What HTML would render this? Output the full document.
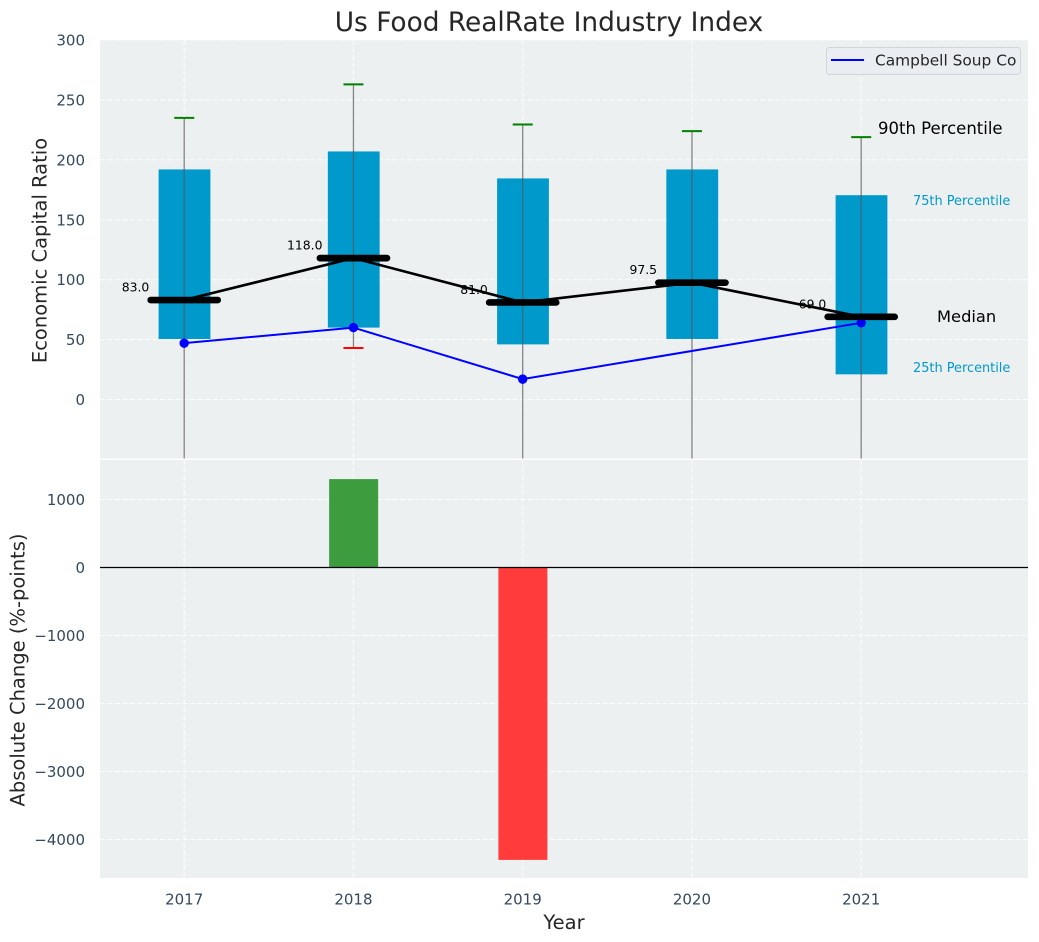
<!DOCTYPE html>
<html>
<head>
<meta charset="utf-8">
<title>Us Food RealRate Industry Index</title>
<style>
html,body{margin:0;padding:0;background:#fff;}
svg{display:block;}
text{font-family:"DejaVu Sans","Liberation Sans",sans-serif;}
</style>
</head>
<body>
<svg id="chart" xmlns="http://www.w3.org/2000/svg" width="1039" height="942" viewBox="0 0 1039 942">
<defs>
<clipPath id="clip-top"><rect x="100" y="40" width="928" height="418.5"/></clipPath>
<clipPath id="clip-bottom"><rect x="100" y="460" width="928" height="418"/></clipPath>
</defs>
<rect x="100" y="40" width="928" height="418.5" fill="#ecf0f1"/>
<rect x="100" y="460" width="928" height="418" fill="#ecf0f1"/>
<g id="grid"></g>
<g id="top" clip-path="url(#clip-top)"></g>
<g id="bottom" clip-path="url(#clip-bottom)"></g>
<g id="ticks"></g>
<text x="549" y="31" text-anchor="middle" font-size="26.4" fill="#262626">Us Food RealRate Industry Index</text>
<text transform="translate(46.5 250.5) rotate(-90)" text-anchor="middle" font-size="19.5" fill="#262626">Economic Capital Ratio</text>
<text transform="translate(24.5 670) rotate(-90)" text-anchor="middle" font-size="19.5" fill="#262626">Absolute Change (%-points)</text>
<text x="564" y="929" text-anchor="middle" font-size="19.5" fill="#262626">Year</text>
<text x="878" y="134" font-size="16.5" fill="#000">90th Percentile</text>
<text x="913" y="205" font-size="12.9" fill="#0099cc">75th Percentile</text>
<text x="937" y="322" font-size="16.3" fill="#000">Median</text>
<text x="913" y="372" font-size="12.9" fill="#0099cc">25th Percentile</text>
<g>
<rect x="826.5" y="47.5" width="194" height="27" rx="3" fill="#eaedf1" stroke="#d2d4d6" stroke-width="1"/>
<line x1="831" y1="60" x2="864" y2="60" stroke="#0000ff" stroke-width="2"/>
<text x="875" y="65.5" font-size="15.4" fill="#262626">Campbell Soup Co</text>
</g>
</svg>
<script>
const years = [2017, 2018, 2019, 2020, 2021];
const p90 = [235, 263, 229.5, 224, 219];
const p75 = [192, 207, 184.5, 192, 170.5];
const medians = [83, 118, 81, 97.5, 69];
const p25 = [50.5, 60, 46, 50.5, 21];
const p10 = [-80, 43, -80, -80, -80];
const company = [47, 60, 17, null, 64];
const changes = [null, 1300, -4300, null, null];
const topTicks = [0, 50, 100, 150, 200, 250, 300];
const bottomTicks = [-4000, -3000, -2000, -1000, 0, 1000];

const NS = 'http://www.w3.org/2000/svg';
const sx = v => 184.2 + (v - 2017) * 169.25;
const syTop = v => 399.5 - v * 1.1983;
const syBottom = v => 567.5 - v * 0.068;
const gridG = document.getElementById('grid');
const topG = document.getElementById('top');
const bottomG = document.getElementById('bottom');
const ticksG = document.getElementById('ticks');

function make(tag, parent) {
  const el = document.createElementNS(NS, tag);
  parent.appendChild(el);
  return el;
}
function place(el, pairs) {
  for (const k in pairs) el.setAttribute(k, pairs[k]);
  return el;
}
const gridStyle = {stroke: '#ffffff', 'stroke-width': 1.1, 'stroke-dasharray': '5 2.5', opacity: 0.8};

years.forEach(y => {
  const g1 = place(make('line', gridG), {x1: sx(y), x2: sx(y), y1: 40, y2: 458.5, ...gridStyle});
  
  
  const g2 = place(make('line', gridG), {x1: sx(y), x2: sx(y), y1: 460, y2: 878, ...gridStyle});
  
  
  const t = make('text', ticksG);
  place(t, {x: sx(y), y: 904.5, 'text-anchor': 'middle', 'font-size': 15, fill: '#34495e'});
  t.textContent = y;
  
  
});
topTicks.forEach(v => {
  const l = place(make('line', gridG), {x1: 100, x2: 1028, y1: syTop(v), y2: syTop(v), ...gridStyle});
  
  
  const t = make('text', ticksG);
  place(t, {x: 85, y: syTop(v) + 5.5, 'text-anchor': 'end', 'font-size': 15, fill: '#34495e'});
  t.textContent = v;
  
  
});
bottomTicks.forEach(v => {
  const l = place(make('line', gridG), {x1: 100, x2: 1028, y1: syBottom(v), y2: syBottom(v), ...gridStyle});
  
  
  const t = make('text', ticksG);
  place(t, {x: 85, y: syBottom(v) + 5.5, 'text-anchor': 'end', 'font-size': 15, fill: '#34495e'});
  t.textContent = String(v).replace('-', '\u2212');
  
  
});

/* interquartile boxes */
years.forEach((y, i) => {
  const b = place(make('rect', topG), {
    x: sx(y) - 25.6, width: 51.8,
    y: syTop(p75[i]), height: syTop(p25[i]) - syTop(p75[i]), fill: '#0099cc'
  });
  
  
});
/* whiskers and caps */
years.forEach((y, i) => {
  const w = place(make('line', topG), {
    x1: sx(y), x2: sx(y), y1: syTop(p90[i]), y2: syTop(p10[i]),
    stroke: '#555555', 'stroke-width': 1.3, opacity: 0.7
  });
  
  
  const hi = place(make('line', topG), {
    x1: sx(y) - 10, x2: sx(y) + 10, y1: syTop(p90[i]), y2: syTop(p90[i]),
    stroke: '#008000', 'stroke-width': 2
  });
  
  
  const lo = place(make('line', topG), {
    x1: sx(y) - 10, x2: sx(y) + 10, y1: syTop(p10[i]), y2: syTop(p10[i]),
    stroke: '#ff0000', 'stroke-width': 2
  });
  
  
});
/* median value labels */
years.forEach((y, i) => {
  const t = make('text', topG);
  place(t, {x: sx(y) - 48.7, y: syTop(medians[i]) - 8.5, 'text-anchor': 'middle', 'font-size': 12.4, fill: '#000'});
  t.textContent = medians[i].toFixed(1);
  
  
});
/* company series */
const companyPts = years.map((y, i) => company[i] === null ? null : sx(y) + ',' + syTop(company[i])).filter(Boolean);
const companyLine = place(make('polyline', topG), {points: companyPts.join(' '), fill: 'none', stroke: '#0000ff', 'stroke-width': 2});


years.forEach((y, i) => {
  if (company[i] === null) return;
  const c = place(make('circle', topG), {cx: sx(y), cy: syTop(company[i]), r: 4.7, fill: '#0000ff'});
  
  
});
/* median series */
const medianLine = place(make('polyline', topG), {
  points: years.map((y, i) => sx(y) + ',' + syTop(medians[i])).join(' '),
  fill: 'none', stroke: '#000', 'stroke-width': 2.6
});


years.forEach((y, i) => {
  const m = place(make('line', topG), {
    x1: sx(y) - 33.5, x2: sx(y) + 33.5, y1: syTop(medians[i]), y2: syTop(medians[i]),
    stroke: '#000', 'stroke-width': 6.7, 'stroke-linecap': 'round'
  });
  
  
});
/* change bars */
years.forEach((y, i) => {
  if (changes[i] === null) return;
  const v = changes[i];
  const b = place(make('rect', bottomG), {
    x: sx(y) - 24.3, width: 49,
    y: Math.min(syBottom(0), syBottom(v)), height: Math.abs(syBottom(v) - syBottom(0)),
    fill: v >= 0 ? '#3c9c3e' : '#ff3b3b'
  });
  
  
});
const zero = place(make('line', bottomG), {x1: 100, x2: 1028, y1: syBottom(0), y2: syBottom(0), stroke: '#000', 'stroke-width': 1.3});


</script>
</body>
</html>
